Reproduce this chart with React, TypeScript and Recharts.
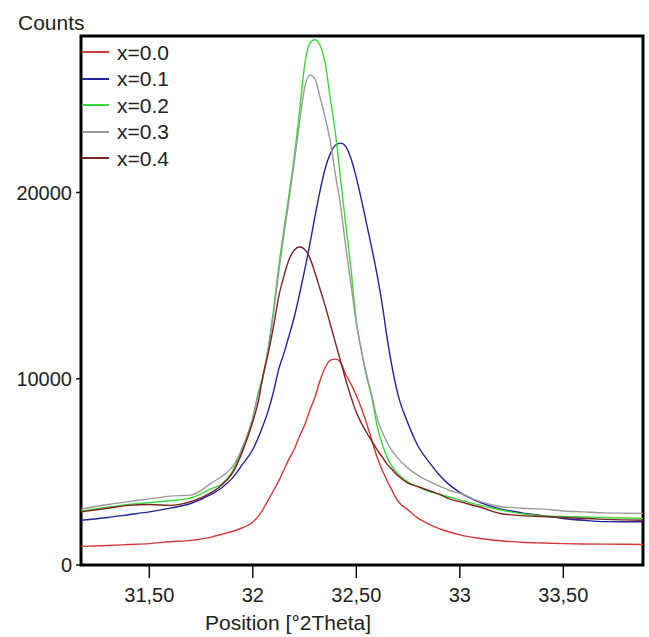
import { LineChart, Line, XAxis, YAxis, Legend, ReferenceArea } from "recharts";

// 2theta positions (denser around the peaks)
const positions = [
  31.17, 31.3, 31.4, 31.5, 31.6, 31.7, 31.8, 31.85, 31.9, 31.95, 32.0, 32.025, 32.05, 32.075, 32.1, 32.125,
  32.15, 32.175, 32.2, 32.225, 32.25, 32.275, 32.3, 32.325, 32.35, 32.375, 32.4, 32.425, 32.45, 32.475, 32.5,
  32.525, 32.55, 32.575, 32.6, 32.625, 32.65, 32.675, 32.7, 32.75, 32.8, 32.85, 32.9, 32.95, 33.0, 33.1, 33.2,
  33.3, 33.4, 33.5, 33.6, 33.7, 33.8, 33.885,
];

const countsX00 = [
  1000, 1050, 1100, 1150, 1250, 1320, 1500, 1650, 1800, 2000, 2300, 2600, 3000, 3500, 4000, 4500,
  5100, 5700, 6200, 6900, 7500, 8300, 9000, 9900, 10600, 11000, 11050, 10850, 10200, 9700, 9100,
  8400, 7600, 6700, 5800, 5100, 4500, 3950, 3450, 2950, 2500, 2200, 1950, 1770, 1620, 1420, 1300,
  1220, 1180, 1150, 1130, 1120, 1110, 1100,
];

const countsX01 = [
  2400, 2550, 2700, 2850, 3050, 3300, 3800, 4150, 4650, 5400, 6200, 6800, 7500, 8300, 9300, 10500,
  11350, 12300, 13300, 14500, 15800, 17200, 18700, 20100, 21300, 22100, 22550, 22650, 22450, 21800, 20800,
  19600, 18300, 17000, 15600, 14000, 12100, 10500, 9200, 7600, 6350, 5550, 4850, 4300, 3900, 3350, 3000,
  2800, 2650, 2500, 2400, 2330, 2320, 2320,
];

const countsX02 = [
  2900, 3100, 3250, 3350, 3450, 3600, 4100, 4350, 5000, 6300, 7900, 9200, 10200, 11700, 13700, 16000,
  18000, 19900, 21900, 24300, 26800, 28000, 28200, 27900, 26900, 25000, 23100, 20600, 18200, 15800, 13100,
  11500, 10100, 9000, 7500, 6500, 5750, 5250, 4900, 4450, 4200, 3950, 3800, 3650, 3500, 3200, 2950,
  2750, 2650, 2600, 2580, 2550, 2520, 2500,
];

const countsX03 = [
  3000, 3250, 3400, 3550, 3700, 3750, 4400, 4750, 5250, 6300, 7900, 9100, 10100, 11600, 13500, 15700,
  17700, 19600, 21600, 23700, 25600, 26300, 26100, 25100, 24000, 22700, 20900, 19200, 17000, 15000, 13000,
  11500, 10200, 9100, 7900, 7150, 6550, 6100, 5750, 5200, 4800, 4500, 4250, 4000, 3850, 3400, 3130,
  3050, 3000, 2900, 2850, 2800, 2780, 2770,
];

const countsX04 = [
  2850, 3050, 3200, 3250, 3200, 3400, 3900, 4300, 4900, 6100, 7700, 8700, 10200, 11400, 12800, 14400,
  15500, 16400, 16900, 17070, 16950, 16500, 15700, 14800, 13900, 12900, 11900, 10900, 9900, 9000, 8200,
  7600, 7100, 6650, 6200, 5800, 5400, 5100, 4800, 4400, 4200, 4000, 3800, 3550, 3400, 3100, 2750,
  2650, 2600, 2550, 2500, 2450, 2420, 2400,
];

const seriesNames = ["x=0.0", "x=0.1", "x=0.2", "x=0.3", "x=0.4"];
const seriesColors = ["#d03a3a", "#23239a", "#3bd83b", "#9a9a9a", "#7d2222"];

const xTicks = [31.5, 32, 32.5, 33, 33.5];
const xTickLabels = ["31,50", "32", "32,50", "33", "33,50"];
const yTicks = [0, 10000, 20000];

const xDomain = [31.17, 33.885];
const yDomain = [0, 28400];

const data = positions.map((x, i) => ({
  x,
  s0: countsX00[i],
  s1: countsX01[i],
  s2: countsX02[i],
  s3: countsX03[i],
  s4: countsX04[i],
}));

const FONT = "'Liberation Sans', Arial, sans-serif";

function LegendBox() {
  return (
    <div style={{ fontFamily: FONT, fontSize: 21, color: "#222" }}>
      {seriesNames.map((name, i) => (
        <div key={name} style={{ display: "flex", alignItems: "center", height: 26.5 }}>
          <div style={{ width: 27, height: 2, background: seriesColors[i] }} />
          <span style={{ marginLeft: 8, lineHeight: "21px" }}>{name}</span>
        </div>
      ))}
    </div>
  );
}

export default function App() {
  return (
    <div style={{ position: "absolute", left: 0, top: 0, width: 649, height: 637, background: "#fff" }}>
      <LineChart width={649} height={637} data={data} margin={{ top: 36, right: 6, bottom: 0, left: 0 }}>
        <XAxis
          dataKey="x"
          type="number"
          domain={xDomain}
          allowDataOverflow
          ticks={xTicks}
          tickFormatter={(v) => xTickLabels[xTicks.indexOf(v)] ?? String(v)}
          height={72}
          axisLine={false}
          tickLine={{ stroke: "#111", strokeWidth: 1.5 }}
          tickSize={13}
          tickMargin={10}
          tick={{ fill: "#222", fontSize: 20, fontFamily: FONT }}
          label={{
            content: () => (
              <text x={205} y={630} fill="#222" fontSize={21} fontFamily={FONT}>
                Position [°2Theta]
              </text>
            ),
          }}
        />
        <YAxis
          type="number"
          domain={yDomain}
          allowDataOverflow
          ticks={yTicks}
          width={81}
          axisLine={false}
          tickLine={{ stroke: "#111", strokeWidth: 1.5 }}
          tickSize={5}
          tickMargin={4}
          tick={{ fill: "#222", fontSize: 20, fontFamily: FONT }}
          label={{
            content: () => (
              <text x={18} y={30} fill="#222" fontSize={21} fontFamily={FONT}>
                Counts
              </text>
            ),
          }}
        />
        <ReferenceArea
          x1={xDomain[0]}
          x2={xDomain[1]}
          y1={yDomain[0]}
          y2={yDomain[1]}
          fill="none"
          fillOpacity={0}
          stroke="#000"
          strokeWidth={3}
          ifOverflow="visible"
        />
        {seriesNames.map((name, i) => (
          <Line
            key={name}
            dataKey={`s${i}`}
            name={name}
            type="monotone"
            stroke={seriesColors[i]}
            strokeWidth={1.4}
            dot={false}
            activeDot={false}
            isAnimationActive={false}
          />
        ))}
        <Legend
          layout="vertical"
          align="center"
          verticalAlign="middle"
          wrapperStyle={{ left: 82, top: 39, width: 120, height: "auto" }}
          content={() => <LegendBox />}
        />
      </LineChart>
    </div>
  );
}
